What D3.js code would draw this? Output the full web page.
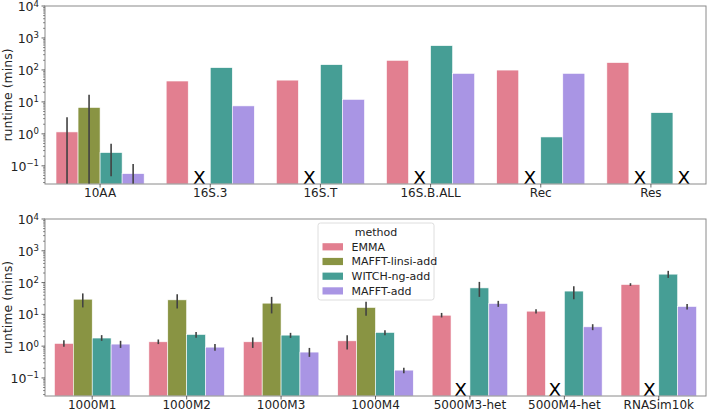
<!DOCTYPE html>
<html>
<head>
<meta charset="utf-8">
<script src="https://cdn.jsdelivr.net/npm/d3@7"></script>
<style>
  body { margin: 0; background: #fff; }
  text { font-family: "DejaVu Sans", sans-serif; fill: #222; }
</style>
</head>
<body>
<svg id="chart" width="708" height="410"></svg>
<script>
// ---- data ----
const methods = ["EMMA", "MAFFT-linsi-add", "WITCH-ng-add", "MAFFT-add"];
const methodColors = ["#e27f90", "#899443", "#469e95", "#a995e4"];

const topCategories = ["10AA", "16S.3", "16S.T", "16S.B.ALL", "Rec", "Res"];
// null = method did not finish (drawn as X)
const topEMMA   = [1.15, 45, 48, 200, 99, 170];
const topLinsi  = [6.7, null, null, null, null, null];
const topWitch  = [0.26, 118, 146, 575, 0.8, 4.6];
const topAdd    = [0.057, 7.5, 12, 78, 78, null];
// error bars [low, high]; low below axis gets clipped
const topEMMAErr  = [[0.001, 3.3], null, null, null, null, null];
const topLinsiErr = [[0.001, 16.7], null, null, null, null, null];
const topWitchErr = [[0.047, 0.49], null, null, null, null, null];
const topAddErr   = [[0.001, 0.115], null, null, null, null, null];

const bottomCategories = ["1000M1", "1000M2", "1000M3", "1000M4", "5000M3-het", "5000M4-het", "RNASim10k"];
const bottomEMMA  = [1.22, 1.37, 1.37, 1.47, 9.4, 12.6, 87];
const bottomLinsi = [30, 28.6, 22.5, 16.5, null, null, null];
const bottomWitch = [1.8, 2.33, 2.22, 2.7, 68, 54, 184];
const bottomAdd   = [1.16, 0.93, 0.65, 0.176, 22, 4.05, 17.7];
const bottomEMMAErr  = [[0.95, 1.54], [1.16, 1.62], [0.88, 1.88], [0.79, 2.22], [8.0, 11.1], [10.6, 14.6], [78.7, 95.6]];
const bottomLinsiErr = [[16.5, 45.6], [15.3, 43], [10.7, 35.5], [9, 24.7], null, null, null];
const bottomWitchErr = [[1.47, 2.22], [1.82, 2.8], [1.82, 2.62], [2.22, 3.18], [35.5, 105], [30, 77], [140, 234]];
const bottomAddErr   = [[0.88, 1.47], [0.71, 1.16], [0.46, 0.88], [0.14, 0.21], [17.2, 26.6], [3.18, 4.9], [14.3, 21]];

const yTickExps = [-1, 0, 1, 2, 3, 4];
const yMin = 0.027, yMax = 1e4;

const svg = d3.select("#chart");

function drawPanel(cats, values, errs, box, showLegend) {
    let x = d3.scaleBand().domain(cats).range([box.left, box.right])
        .paddingInner(0.2).paddingOuter(0.1);
    let xm = d3.scaleBand().domain(methods).range([0, x.bandwidth()]);
    let y = d3.scaleLog().domain([yMin, yMax]).range([box.bottom, box.top]).clamp(true);

    let g = svg.append("g");

    // bars, error bars and X marks
    methods.forEach(function (m, mi) {
        cats.forEach(function (c, ci) {
            let v = values[mi][ci];
            let bx = x(c) + xm(m);
            if (v === null) {
                g.append("text")
                    .attr("x", bx + xm.bandwidth() / 2)
                    .attr("y", box.bottom)
                    .attr("text-anchor", "middle")
                    .style("font-size", "18.5px")
                    .style("fill", "#000")
                    .text("X");
                return;
            }
            g.append("rect")
                .attr("x", bx)
                .attr("y", y(v))
                .attr("width", xm.bandwidth())
                .attr("height", box.bottom - y(v))
                .attr("fill", methodColors[mi])
                .attr("stroke", "#fff")
                .attr("stroke-width", 0.6);
            let e = errs[mi][ci];
            if (e) {
                g.append("line")
                    .attr("x1", bx + xm.bandwidth() / 2)
                    .attr("x2", bx + xm.bandwidth() / 2)
                    .attr("y1", y(e[0]))
                    .attr("y2", y(e[1]))
                    .attr("stroke", "#424242")
                    .attr("stroke-width", 1.6);
            }
        });
    });

    // frame
    g.append("rect")
        .attr("x", box.left).attr("y", box.top)
        .attr("width", box.right - box.left).attr("height", box.bottom - box.top)
        .attr("fill", "none").attr("stroke", "#8a8a8a").attr("stroke-width", 1);

    // y ticks, major + minor
    yTickExps.forEach(function (k) {
        let ty = y(Math.pow(10, k));
        g.append("line").attr("x1", box.left - 3.5).attr("x2", box.left)
            .attr("y1", ty).attr("y2", ty).attr("stroke", "#444").attr("stroke-width", 0.8);
        let t = g.append("text")
            .attr("x", box.left - 6)
            .attr("y", ty + 5)
            .attr("text-anchor", "end")
            .style("font-size", "12.5px");
        t.append("tspan").text("10");
        t.append("tspan").attr("dy", -4.5).style("font-size", "8.5px")
            .text(k < 0 ? "\u2212" + (-k) : String(k));
    });
    for (let k = -2; k < 4; k++) {
        for (let j = 2; j <= 9; j++) {
            let v = j * Math.pow(10, k);
            if (v < yMin || v > yMax) continue;
            let ty = y(v);
            g.append("line").attr("x1", box.left - 2).attr("x2", box.left)
                .attr("y1", ty).attr("y2", ty).attr("stroke", "#444").attr("stroke-width", 0.6);
        }
    }

    // x ticks and labels
    cats.forEach(function (c) {
        let cx = x(c) + x.bandwidth() / 2;
        g.append("line").attr("x1", cx).attr("x2", cx)
            .attr("y1", box.bottom).attr("y2", box.bottom + 3.5)
            .attr("stroke", "#444").attr("stroke-width", 0.8);
        g.append("text")
            .attr("x", cx)
            .attr("y", box.bottom + 12.5)
            .attr("text-anchor", "middle")
            .style("font-size", "12px")
            .text(c);
    });

    // y label
    g.append("text")
        .attr("transform", "translate(12," + ((box.top + box.bottom) / 2) + ") rotate(-90)")
        .attr("text-anchor", "middle")
        .style("font-size", "12.5px")
        .text("runtime (mins)");

    if (showLegend) {
        let lg = g.append("g").attr("transform", "translate(318,223)");
        lg.append("rect").attr("width", 116).attr("height", 77).attr("rx", 2.5)
            .attr("fill", "#fff").attr("fill-opacity", 0.8)
            .attr("stroke", "#d6d6d6").attr("stroke-width", 0.8);
        lg.append("text").attr("x", 58).attr("y", 13)
            .attr("text-anchor", "middle").style("font-size", "11px").text("method");
        methods.forEach(function (m, i) {
            let ly = 23.7 + i * 14.7;
            lg.append("rect").attr("x", 4.5).attr("y", ly - 3.5)
                .attr("width", 20.5).attr("height", 7.2).attr("fill", methodColors[i]);
            lg.append("text").attr("x", 33.5).attr("y", ly + 4)
                .style("font-size", "11px").text(m);
        });
    }
}

drawPanel(topCategories,
    [topEMMA, topLinsi, topWitch, topAdd],
    [topEMMAErr, topLinsiErr, topWitchErr, topAddErr],
    {left: 45, right: 706, top: 6, bottom: 184}, false);

drawPanel(bottomCategories,
    [bottomEMMA, bottomLinsi, bottomWitch, bottomAdd],
    [bottomEMMAErr, bottomLinsiErr, bottomWitchErr, bottomAddErr],
    {left: 45, right: 706, top: 219, bottom: 396}, true);
</script>
</body>
</html>
